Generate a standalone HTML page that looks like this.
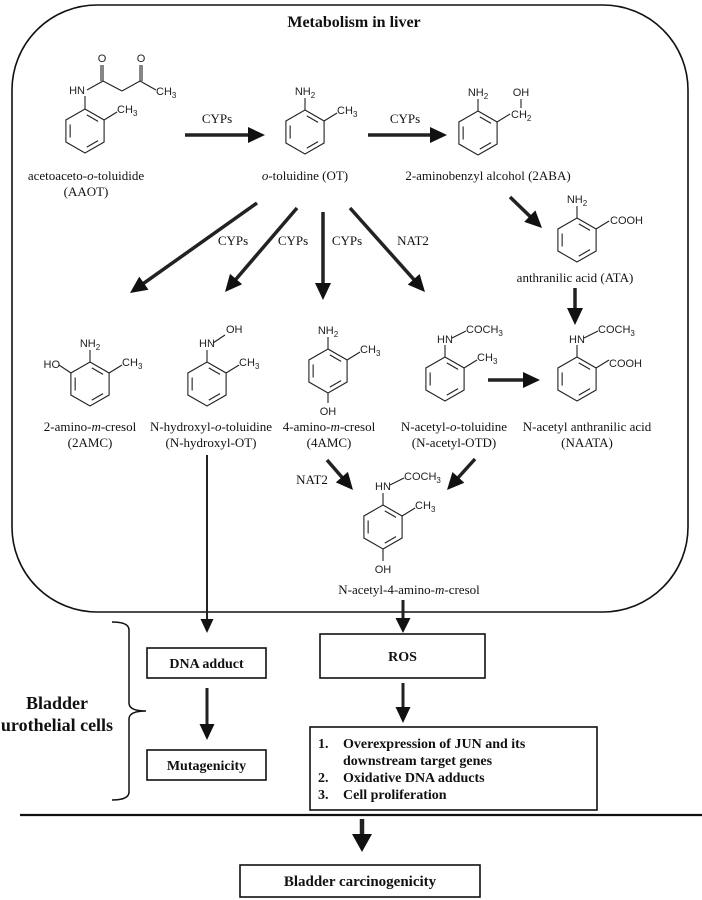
<!DOCTYPE html>
<html><head><meta charset="utf-8"><style>
html,body{margin:0;padding:0;background:#fff;}
svg{display:block;}
.s{font-family:"Liberation Serif",serif;font-size:13px;fill:#111;}
.c{font-family:"Liberation Sans",sans-serif;font-size:11px;fill:#222;}
.b{font-family:"Liberation Serif",serif;font-weight:bold;fill:#111;}
</style></head><body>
<svg id="g" width="702" height="900" viewBox="0 0 702 900" xmlns="http://www.w3.org/2000/svg">
<path d="M97 5 H603 A85 85 0 0 1 688 90 V527 A85 85 0 0 1 603 612 H97 A85 85 0 0 1 12 527 V90 A85 85 0 0 1 97 5 Z" fill="none" stroke="#111" stroke-width="1.6"/>
<text class="b" x="354" y="27" font-size="16" text-anchor="middle">Metabolism in liver</text>

<text class="s" x="86" y="180" text-anchor="middle">acetoaceto-<tspan font-style="italic">o</tspan>-toluidide</text>
<text class="s" x="86" y="196" text-anchor="middle">(AAOT)</text>
<text class="s" x="305" y="180" text-anchor="middle"><tspan font-style="italic">o</tspan>-toluidine (OT)</text>
<text class="s" x="488" y="180" text-anchor="middle">2-aminobenzyl alcohol (2ABA)</text>
<text class="s" x="575" y="282" text-anchor="middle">anthranilic acid (ATA)</text>
<text class="s" x="90" y="431" text-anchor="middle">2-amino-<tspan font-style="italic">m</tspan>-cresol</text>
<text class="s" x="90" y="447" text-anchor="middle">(2AMC)</text>
<text class="s" x="211" y="431" text-anchor="middle">N-hydroxyl-<tspan font-style="italic">o</tspan>-toluidine</text>
<text class="s" x="211" y="447" text-anchor="middle">(N-hydroxyl-OT)</text>
<text class="s" x="329" y="431" text-anchor="middle">4-amino-<tspan font-style="italic">m</tspan>-cresol</text>
<text class="s" x="329" y="447" text-anchor="middle">(4AMC)</text>
<text class="s" x="454" y="431" text-anchor="middle">N-acetyl-<tspan font-style="italic">o</tspan>-toluidine</text>
<text class="s" x="454" y="447" text-anchor="middle">(N-acetyl-OTD)</text>
<text class="s" x="587" y="431" text-anchor="middle">N-acetyl anthranilic acid</text>
<text class="s" x="587" y="447" text-anchor="middle">(NAATA)</text>
<text class="s" x="409" y="594" text-anchor="middle">N-acetyl-4-amino-<tspan font-style="italic">m</tspan>-cresol</text>

<text class="s" x="217" y="123" text-anchor="middle">CYPs</text>
<text class="s" x="405" y="123" text-anchor="middle">CYPs</text>
<text class="s" x="233" y="245" text-anchor="middle">CYPs</text>
<text class="s" x="293" y="245" text-anchor="middle">CYPs</text>
<text class="s" x="347" y="245" text-anchor="middle">CYPs</text>
<text class="s" x="413" y="245" text-anchor="middle">NAT2</text>
<text class="s" x="312" y="484" text-anchor="middle">NAT2</text>

<rect x="147" y="648" width="119" height="30" fill="none" stroke="#111" stroke-width="1.6"/>
<text class="b" x="206.5" y="668" font-size="14" text-anchor="middle">DNA adduct</text>
<rect x="147" y="750" width="119" height="30" fill="none" stroke="#111" stroke-width="1.6"/>
<text class="b" x="206.5" y="770" font-size="14" text-anchor="middle">Mutagenicity</text>
<rect x="320" y="634" width="165" height="44" fill="none" stroke="#111" stroke-width="1.6"/>
<text class="b" x="402.5" y="661" font-size="14" text-anchor="middle">ROS</text>
<rect x="310" y="727" width="287" height="83" fill="none" stroke="#111" stroke-width="1.6"/>
<g class="b" font-size="14">
<text x="318" y="748">1.</text><text x="343" y="748">Overexpression of JUN and its</text>
<text x="343" y="765">downstream target genes</text>
<text x="318" y="782">2.</text><text x="343" y="782">Oxidative DNA adducts</text>
<text x="318" y="799">3.</text><text x="343" y="799">Cell proliferation</text>
</g>
<line x1="20" y1="815" x2="702" y2="815" stroke="#111" stroke-width="2.2"/>
<rect x="240" y="865" width="240" height="32" fill="none" stroke="#111" stroke-width="1.6"/>
<text class="b" x="360" y="886" font-size="15" text-anchor="middle">Bladder carcinogenicity</text>
<text class="b" x="57" y="709" font-size="18" text-anchor="middle">Bladder</text>
<text class="b" x="57" y="731" font-size="18" text-anchor="middle">urothelial cells</text>
<path d="M112 622 Q129 622 129 630 V703 Q129 711 146 711 Q129 711 129 719 V792 Q129 800 112 800" fill="none" stroke="#111" stroke-width="1.5"/>
<g id="dyn"></g>
</svg>
<script>
var d=document.getElementById('dyn'),o='';
function L(a,b,c,e,w){o+='<line x1="'+a+'" y1="'+b+'" x2="'+c+'" y2="'+e+'" stroke="#222" stroke-width="'+(w||1.1)+'"/>';}
function T(x,y,s,anc){o+='<text class="c" x="'+x+'" y="'+y+'"'+(anc?' text-anchor="'+anc+'"':'')+'>'+s+'</text>';}
function sub(s){return s.replace(/(\d)/g,'<tspan font-size="8" dy="3">$1</tspan><tspan dy="-3"></tspan>');}
function ring(cx,cy,r){var v=[];for(var i=0;i<6;i++){var a=(-90+60*i)*Math.PI/180;v.push([cx+r*Math.cos(a),cy+r*Math.sin(a)]);}
 var p='M'+v.map(function(q){return q[0].toFixed(1)+' '+q[1].toFixed(1)}).join(' L')+'Z';
 o+='<path d="'+p+'" fill="none" stroke="#222" stroke-width="1.1"/>';
 [[0,1],[2,3],[4,5]].forEach(function(e){var A=v[e[0]],B=v[e[1]],k=0.78;
  var a=[cx+(A[0]-cx)*k,cy+(A[1]-cy)*k],b=[cx+(B[0]-cx)*k,cy+(B[1]-cy)*k];
  var ax=a[0]+(b[0]-a[0])*0.12,ay=a[1]+(b[1]-a[1])*0.12,bx=b[0]-(b[0]-a[0])*0.12,by=b[1]-(b[1]-a[1])*0.12;L(ax,ay,bx,by);});
 return v;}
function A(x1,y1,x2,y2,w,hl,hw){var dx=x2-x1,dy=y2-y1,l=Math.sqrt(dx*dx+dy*dy),ux=dx/l,uy=dy/l;
 var bx=x2-ux*hl,by=y2-uy*hl;L(x1,y1,bx+ux*2,by+uy*2,w);
 o+='<polygon points="'+x2+','+y2+' '+(bx-uy*hw/2)+','+(by+ux*hw/2)+' '+(bx+uy*hw/2)+','+(by-ux*hw/2)+'" fill="#111"/>';}
function ch3(v){L(v[1][0],v[1][1],v[1][0]+13,v[1][1]-8);T(v[1][0]+13,v[1][1]-7,sub('CH3'));}
var r=22,v;
v=ring(85,131,r);L(85,109,85,96);T(85,94,'HN','end');L(87,90,103,81);L(103,81,103,65);L(101,81,101,65);T(102,62,'O','middle');L(103,81,122,91);L(122,91,140,81);L(140,81,140,65);L(142,81,142,65);T(141,62,'O','middle');L(140,81,156,90);T(156,95,sub('CH3'));ch3(v);
v=ring(305,132,r);L(305,110,305,98);T(305,95,sub('NH2'),'middle');ch3(v);
v=ring(478,133,r);L(478,111,478,99);T(478,96,sub('NH2'),'middle');L(v[1][0],v[1][1],v[1][0]+13,v[1][1]-8);T(511,118,sub('CH2'));T(521,96,'OH','middle');L(521,99,521,108);
v=ring(577,240,r);L(577,218,577,206);T(577,203,sub('NH2'),'middle');L(v[1][0],v[1][1],v[1][0]+13,v[1][1]-8);T(610,224,'COOH');
v=ring(90,384,r);L(90,362,90,350);T(90,347,sub('NH2'),'middle');ch3(v);L(v[5][0],v[5][1],v[5][0]-12,v[5][1]-8);T(60,368,'HO','end');
v=ring(207,384,r);L(207,362,207,350);T(207,347,'HN','middle');L(213,343,225,335);T(226,333,'OH');ch3(v);
v=ring(328,371,r);L(328,349,328,337);T(328,334,sub('NH2'),'middle');ch3(v);L(328,393,328,403);T(328,415,'OH','middle');
v=ring(445,379,r);L(445,357,445,345);T(445,343,'HN','middle');L(452,338,466,331);T(466,333,sub('COCH3'));ch3(v);
v=ring(577,379,r);L(577,357,577,345);T(577,343,'HN','middle');L(584,338,598,331);T(598,333,sub('COCH3'));L(v[1][0],v[1][1],v[1][0]+13,v[1][1]-8);T(609,367,'COOH');
v=ring(383,527,r);L(383,505,383,493);T(383,490,'HN','middle');L(390,485,404,478);T(404,480,sub('COCH3'));ch3(v);L(383,549,383,561);T(383,573,'OH','middle');
var W=3.5,H=17,HW=16;
A(185,135,265,135,W,H,HW);A(368,135,447,135,W,H,HW);
A(257,203,130,293,W,H,HW);A(297,208,225,292,W,H,HW);A(323,212,323,300,W,H,HW);A(350,208,425,292,W,H,HW);
A(510,197,542,228,W,H,HW);A(575,288,575,325,W,H,HW);A(488,380,540,380,W,H,HW);
A(327,460,353,490,W,H,HW);A(475,459,447,490,W,H,HW);
A(207,455,207,633,2,14,13);A(403,600,403,633,3,15,15);A(207,688,207,740,3,16,15);A(403,683,403,723,3,16,15);A(362,819,362,852,4.5,18,20);
d.innerHTML=o;
</script>
</body></html>
